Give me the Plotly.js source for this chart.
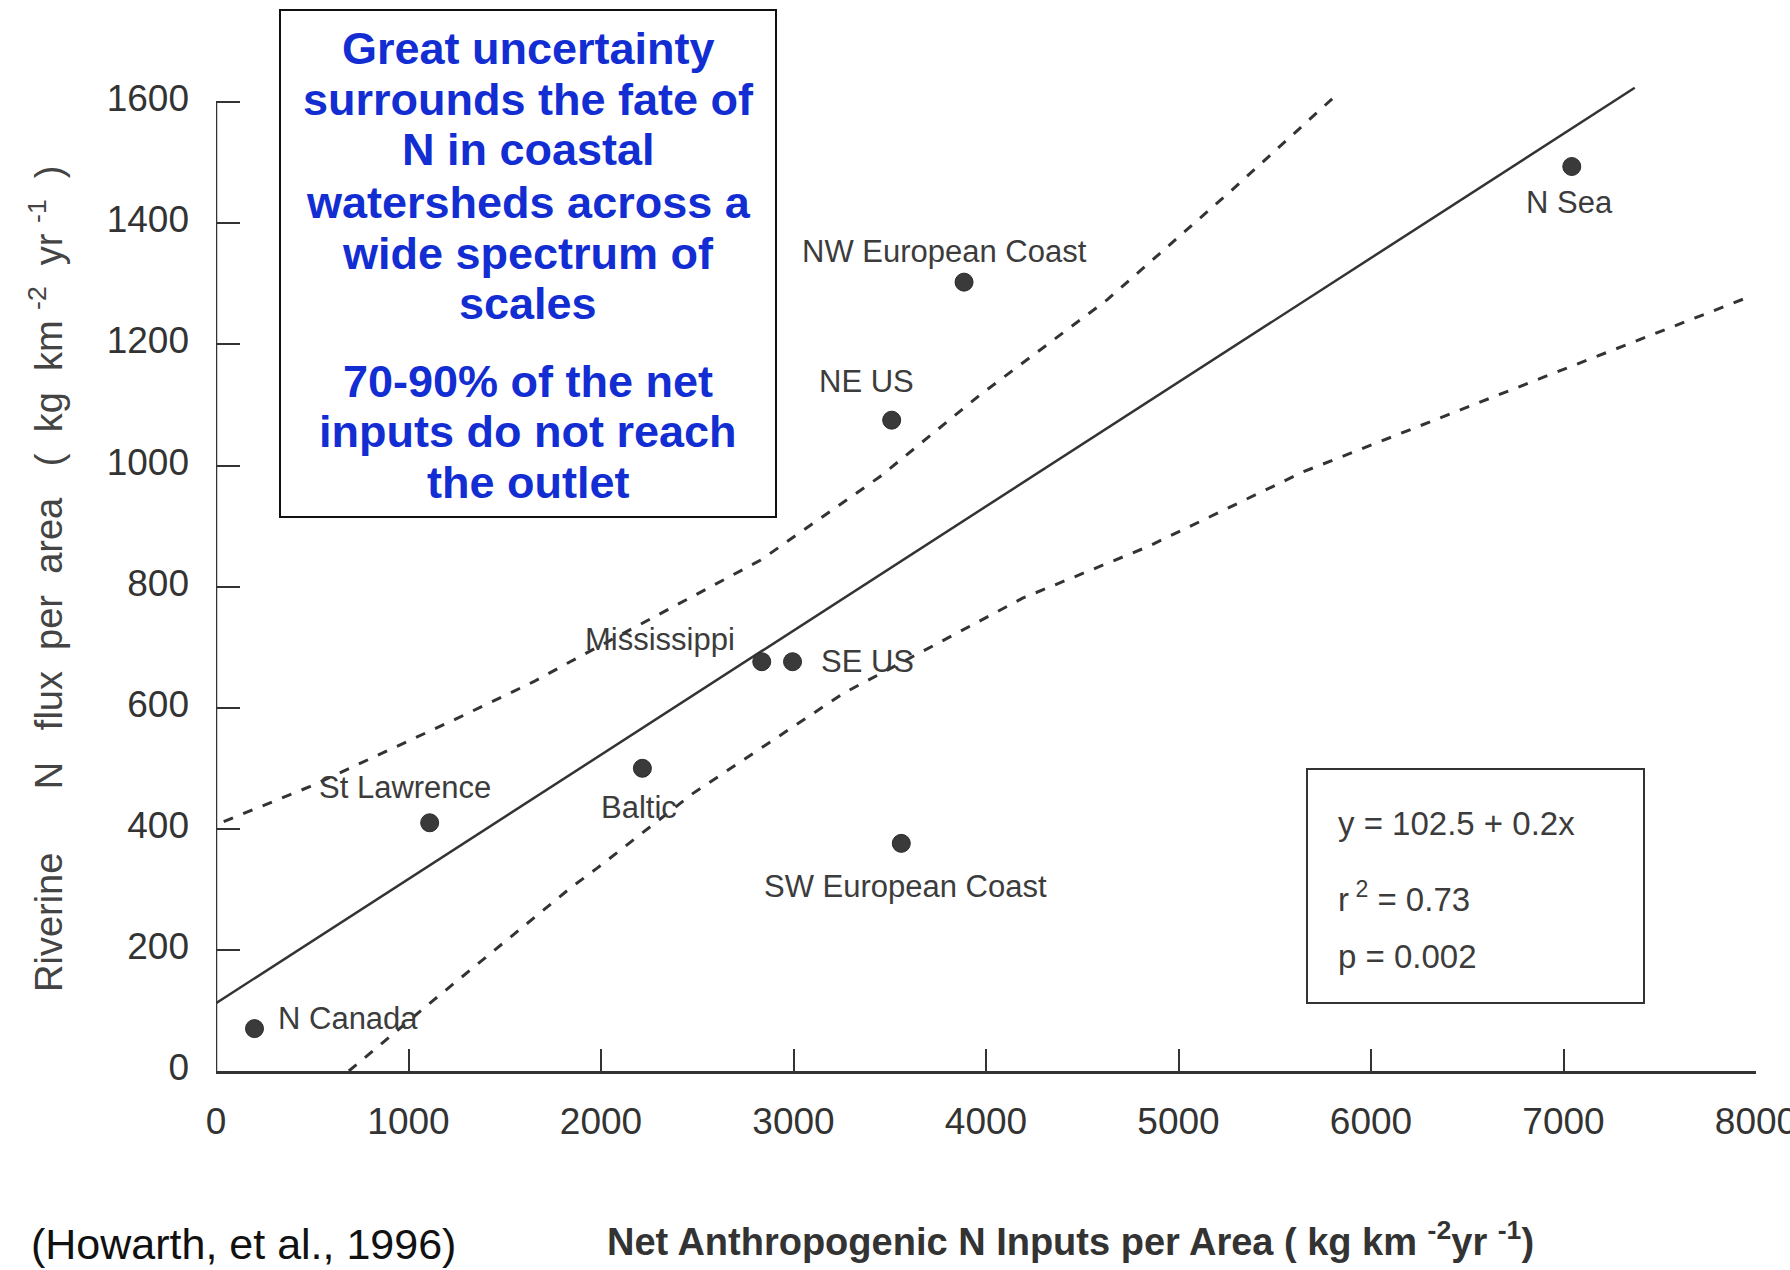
<!DOCTYPE html>
<html>
<head>
<meta charset="utf-8">
<script src="https://cdn.plot.ly/plotly-3.0.1.min.js"></script>
<style>
html,body{margin:0;padding:0;background:#ffffff;}
#chart{width:1790px;height:1270px;}
</style>
</head>
<body>
<div id="chart"></div>
<script>
// ---------------- DATA ----------------
const pointNames = ["N Canada", "St Lawrence", "Baltic", "Mississippi", "SE US",
                    "SW European Coast", "NE US", "NW European Coast", "N Sea"];
const pointX = [200, 1110, 2215, 2835, 2995, 3560, 3510, 3886, 7043];
const pointY = [70, 410, 500, 676, 676, 376, 1075, 1303, 1494];

const fitX = [0, 7370];
const fitY = [112, 1624];

const upperX = [40, 490, 1250, 1650, 1840, 2830, 3450, 3970, 4630, 5270, 5830];
const upperY = [412, 470, 582, 643, 676, 844, 982, 1117, 1274, 1453, 1615];

const lowerX = [690, 1130, 1840, 1980, 2480, 3260, 3800, 4190, 4840, 5650, 6840, 7950];
const lowerY = [0, 117, 302, 335, 459, 624, 715, 781, 866, 990, 1139, 1277];

const xTicks = [0, 1000, 2000, 3000, 4000, 5000, 6000, 7000, 8000];
const yTicks = [0, 200, 400, 600, 800, 1000, 1200, 1400, 1600];

const boxLines = ["Great uncertainty", "surrounds the fate of", "N in coastal",
                  "watersheds across a", "wide spectrum of", "scales",
                  "70-90% of the net", "inputs do not reach", "the outlet"];
const statLines = ["y = 102.5 + 0.2x", "r<sup> 2</sup> = 0.73", "p = 0.002"];

const xTitle = "Net Anthropogenic N Inputs per Area ( kg km <sup>-2</sup>yr <sup>-1</sup>)";
const yTitle = "Riverine\u00a0\u00a0\u00a0\u00a0\u00a0\u00a0N\u00a0\u00a0\u00a0flux\u00a0\u00a0per\u00a0\u00a0area\u00a0\u00a0\u00a0(\u00a0\u00a0kg\u00a0\u00a0km\u00a0<sup>-2</sup>\u00a0\u00a0yr\u00a0<sup>-1</sup>\u00a0\u00a0)";
const citation = "(Howarth, et al., 1996)";

// ---------------- GEOMETRY / STYLE ----------------
const W = 1790, H = 1270;
const M = {l: 216, r: 34, t: 66, b: 199};
const PW = W - M.l - M.r, PH = H - M.t - M.b;
const paperX = px => (px - M.l) / PW;
const paperY = py => (H - M.b - py) / PH;

const INK = "#333333";
const TXT = "#3c3c3c";
const BLUE = "rgb(18,45,210)";
const SANS = "Liberation Sans, Arial, Helvetica, sans-serif";

// label offsets in pixels relative to each point: [dx, dyUp]
const labelOffsets = {
  "N Canada": [93, 10],
  "St Lawrence": [-25, 35],
  "Baltic": [-3, -39],
  "Mississippi": [-102, 22],
  "SE US": [75, 0],
  "SW European Coast": [4, -43],
  "NE US": [-25, 39],
  "NW European Coast": [-20, 31],
  "N Sea": [-2, -36]
};

// blue box text line centres (px)
const boxLineY = [48, 99, 150, 202, 253, 303, 381, 431, 483];
const statLineY = [823, 897, 956];

// ---------------- TRACES ----------------
const traces = [
  {x: upperX, y: upperY, type: "scatter", mode: "lines",
   line: {color: INK, width: 3, dash: "10px,11px"}, hoverinfo: "skip", showlegend: false},
  {x: lowerX, y: lowerY, type: "scatter", mode: "lines",
   line: {color: INK, width: 3, dash: "10px,11px"}, hoverinfo: "skip", showlegend: false},
  {x: fitX, y: fitY, type: "scatter", mode: "lines",
   line: {color: INK, width: 2.5}, hoverinfo: "skip", showlegend: false},
  {x: pointX, y: pointY, type: "scatter", mode: "markers", text: pointNames,
   marker: {color: "#3a3a3a", size: 18, line: {color: "#2a2a2a", width: 1}},
   hoverinfo: "text", showlegend: false}
];

// ---------------- ANNOTATIONS ----------------
const annotations = [];

pointNames.forEach((name, i) => {
  const off = labelOffsets[name];
  annotations.push({
    x: pointX[i], y: pointY[i], xref: "x", yref: "y",
    text: name, showarrow: false, xanchor: "center", yanchor: "middle",
    xshift: off[0], yshift: off[1],
    font: {family: SANS, size: 31, color: TXT}
  });
});

boxLines.forEach((t, i) => {
  annotations.push({
    x: paperX(528), y: paperY(boxLineY[i]), xref: "paper", yref: "paper",
    text: "<b>" + t + "</b>", showarrow: false, xanchor: "center", yanchor: "middle",
    font: {family: SANS, size: 45, color: BLUE}
  });
});

statLines.forEach((t, i) => {
  annotations.push({
    x: paperX(1336), y: paperY(statLineY[i]), xref: "paper", yref: "paper",
    text: t, showarrow: false, xanchor: "left", yanchor: "middle",
    font: {family: SANS, size: 33, color: TXT}
  });
});

annotations.push({
  x: paperX(1070), y: paperY(1239), xref: "paper", yref: "paper",
  text: "<b>" + xTitle + "</b>", showarrow: false, xanchor: "center", yanchor: "middle",
  font: {family: SANS, size: 38, color: INK}
});
annotations.push({
  x: paperX(46), y: paperY(579), xref: "paper", yref: "paper",
  text: yTitle, textangle: -90, showarrow: false, xanchor: "center", yanchor: "middle",
  font: {family: SANS, size: 38, color: "#444444"}
});
annotations.push({
  x: paperX(29), y: paperY(1244), xref: "paper", yref: "paper",
  text: citation, showarrow: false, xanchor: "left", yanchor: "middle",
  font: {family: SANS, size: 43, color: "#111111"}
});

// ---------------- SHAPES ----------------
const shapes = [
  // y axis line (up to the top tick)
  {type: "line", xref: "x", yref: "y", x0: 0, x1: 0, y0: 0, y1: yTicks[yTicks.length - 1],
   line: {color: INK, width: 2.5}},
  // blue text box
  {type: "rect", xref: "paper", yref: "paper",
   x0: paperX(280), x1: paperX(776), y0: paperY(517), y1: paperY(10),
   line: {color: "#111111", width: 2}, fillcolor: "rgba(255,255,255,0)"},
  // statistics box
  {type: "rect", xref: "paper", yref: "paper",
   x0: paperX(1307), x1: paperX(1644), y0: paperY(1003), y1: paperY(769),
   line: {color: INK, width: 2}, fillcolor: "rgba(255,255,255,0)"}
];

// ---------------- LAYOUT ----------------
const layout = {
  width: W, height: H,
  margin: M,
  paper_bgcolor: "#ffffff", plot_bgcolor: "#ffffff",
  showlegend: false,
  xaxis: {
    range: [0, 8000], tickvals: xTicks, ticktext: xTicks.map(String),
    ticks: "inside", ticklen: 22, tickwidth: 2, tickcolor: INK,
    showline: true, linecolor: INK, linewidth: 2.5,
    showgrid: false, zeroline: false, ticklabelstandoff: 16,
    ticklabeloverflow: "allow",
    tickfont: {family: SANS, size: 37, color: INK}
  },
  yaxis: {
    range: [0, 1660], tickvals: yTicks, ticktext: yTicks.map(String),
    ticks: "inside", ticklen: 24, tickwidth: 2, tickcolor: INK,
    showline: false, showgrid: false, zeroline: false, ticklabelstandoff: 26,
    ticklabelshift: -4,
    tickfont: {family: SANS, size: 37, color: INK}
  },
  annotations: annotations,
  shapes: shapes
};

Plotly.newPlot("chart", traces, layout, {displayModeBar: false});
</script>
</body>
</html>
